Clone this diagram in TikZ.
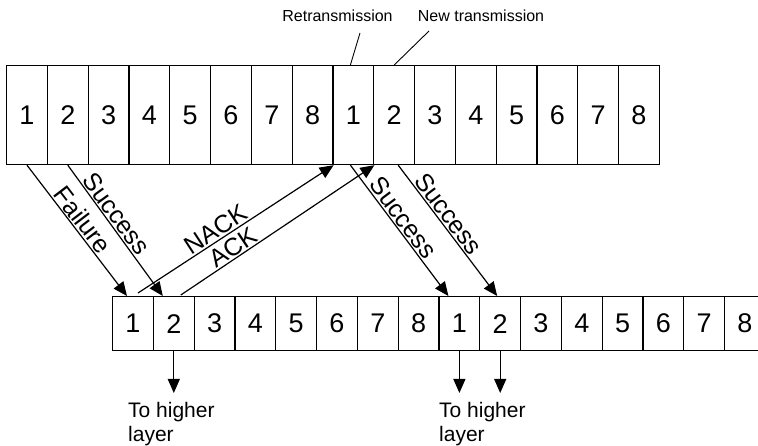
\documentclass[tikz,border=0pt]{standalone}
\usepackage{fontspec}
\setmainfont{Liberation Sans}
\usetikzlibrary{arrows.meta}
\begin{document}
\begin{tikzpicture}[x=1pt,y=-1pt,
  cell/.style={draw, line width=1.2pt, inner sep=0pt, minimum width=40.8pt, anchor=north west, font=\fontsize{27}{30}\selectfont},
  tcell/.style={cell, minimum height=99pt},
  bcell/.style={cell, minimum height=54pt},
  arr/.style={line width=1.2pt, -{Triangle[length=14pt,width=12pt]}},
  lab/.style={sloped, above, inner sep=1.5pt, font=\fontsize{25}{27}\selectfont},
  smalllab/.style={font=\fontsize{16}{18}\selectfont, inner sep=0pt},
  lead/.style={line width=0.9pt},
  outlab/.style={font=\fontsize{21}{24}\selectfont, align=left, anchor=north west, inner sep=0pt}]
\useasboundingbox (0,0) rectangle (758,446);
\foreach \i in {1,...,16}{
  \pgfmathtruncatemacro{\n}{mod(\i-1,8)+1}
  \node[tcell] (t\i) at ({6+40.8*(\i-1)},65) {\n};
  \node[bcell] (b\i) at ({112+40.8*(\i-1)},296) {\n};
}
% forward transmissions
\draw[arr] (t1.south) -- node[lab,pos=0.47]{Failure} ([xshift=-6pt]b1.north);
\draw[arr] (t2.south) -- node[lab,pos=0.42]{Success} ([xshift=-11pt]b2.north);
\draw[arr] ([xshift=-3pt]t9.south) -- node[lab,pos=0.45]{Success} ([xshift=-11pt]b9.north);
\draw[arr] ([xshift=4pt]t10.south) -- node[lab,pos=0.42]{Success} ([xshift=-3pt]b10.north);
% feedback
\draw[arr] ([xshift=5pt,yshift=3pt]b1.north) -- node[lab,pos=0.43]{NACK} (t8.south east);
\draw[arr] ([xshift=7pt,yshift=1pt]b2.north) -- node[lab,pos=0.3]{ACK} (t9.south east);
% top labels
\node[smalllab] (rt) at (337.5,16) {Retransmission};
\node[smalllab] (nt) at (481,16) {New transmission};
\coordinate (r1) at (360,33);
\coordinate (n1) at (429,31);
\draw[lead] (r1) -- ([xshift=-3pt]t9.north);
\draw[lead] (n1) -- (t10.north);
% to higher layer
\node[outlab] (o1) at (128,402) {To higher\\layer};
\node[outlab] (o2) at (439,402) {To higher\\layer};
\coordinate (e1) at (b2.south |- 0,393);
\coordinate (e2) at (b9.south |- 0,393);
\coordinate (e3) at (b10.south |- 0,393);
\draw[arr] (b2.south) -- (e1);
\draw[arr] (b9.south) -- (e2);
\draw[arr] (b10.south) -- (e3);
\end{tikzpicture}
\end{document}
